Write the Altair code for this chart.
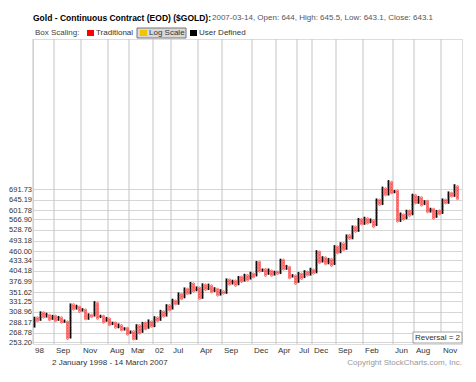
import altair as alt
import pandas as pd

# ---- data (P&F, 1% log boxes, reversal 2) ----
# alternating pivot prices: start, then each column's extreme (X up / O down)
pivots = [280, 300, 290, 310, 296, 305, 292, 303, 290, 300, 286, 292, 258, 327,
          312, 322, 308, 316, 292, 305, 298, 330, 295, 303, 288, 298, 282, 290,
          276, 285, 272, 280, 266, 274, 256, 285, 268, 290, 275, 292, 278, 300,
          290, 312, 298, 325, 312, 335, 322, 350, 336, 362, 345, 375, 352, 365,
          335, 372, 355, 370, 350, 362, 342, 356, 346, 385, 368, 382, 366, 392,
          375, 396, 380, 400, 388, 432, 400, 412, 392, 408, 390, 405, 394, 438,
          405, 418, 385, 395, 372, 400, 384, 405, 390, 410, 396, 462, 425, 445,
          420, 440, 418, 478, 452, 488, 462, 515, 495, 545, 520, 572, 545, 575,
          550, 568, 540, 650, 620, 700, 660, 730, 670, 690, 555, 590, 565, 605,
          580, 670, 625, 660, 620, 645, 590, 612, 570, 605, 585, 650, 625, 680,
          655, 710, 645]

month_labels = ["98", "Sep", "Nov", "Aug", "Mar", "02", "Jul", "Apr", "Sep",
                "Dec", "Apr", "Jul", "Dec", "Sep", "Feb", "Jun", "Aug", "Nov"]
month_cols = [0, 7, 16, 25, 32, 40, 46, 55, 63, 73, 81, 88, 93, 101, 110, 120,
              127, 136]

y_ticks = [253.20, 268.78, 288.17, 308.96, 331.25, 351.62, 376.99, 404.18,
           433.34, 460.00, 493.18, 528.76, 566.90, 601.78, 645.19, 691.73]

BOX = 1.01
N_COLS = 143

# ---- expand columns into boxes ----
rows = []
for k in range(len(pivots) - 1):
    a, b = pivots[k], pivots[k + 1]
    up = b > a
    v = a if k == 0 else (a * BOX if up else a / BOX)
    if up:
        while v <= b * 1.0001:
            rows.append({"col": k + 0.5, "price": v, "kind": "X"})
            v *= BOX
    else:
        while v >= b / 1.0001:
            rows.append({"col": k + 0.5, "price": v, "kind": "O"})
            v /= BOX
boxes = pd.DataFrame(rows)
months = pd.DataFrame({"col": month_cols, "label": month_labels})

FONT = "Liberation Sans"
W, H = 429, 305

xs = alt.Scale(domain=[0, N_COLS], nice=False, zero=False)
ys = alt.Scale(type="log", domain=[249.9, 1853.0], nice=False, zero=False)
yaxis = alt.Axis(values=y_ticks, format=".2f", grid=True, gridColor="#d6d6d6",
                 gridWidth=1, domain=False, ticks=False, labelFont=FONT,
                 labelFontSize=7.5, labelColor="#333333", labelPadding=1.5,
                 labelOverlap=False, labelBound=False, title=None)

base = alt.Chart(boxes)
o_marks = base.transform_filter(alt.datum.kind == "O").mark_point(
    shape="circle", filled=False, size=4, strokeWidth=0.7, color="#ff2a2a",
    opacity=1).encode(
    x=alt.X("col:Q", scale=xs, axis=None),
    y=alt.Y("price:Q", scale=ys, axis=yaxis))
x_marks = base.transform_filter(alt.datum.kind == "X").mark_point(
    shape="cross", angle=45, filled=True, size=5, color="#000000",
    opacity=1).encode(
    x=alt.X("col:Q", scale=xs, axis=None),
    y=alt.Y("price:Q", scale=ys, axis=yaxis))

vgrid = alt.Chart(months).mark_rule(color="#c4c4c4", strokeWidth=1).encode(
    x=alt.X("col:Q", scale=xs, axis=None),
    y=alt.value(0), y2=alt.value(H))
xlabels = alt.Chart(months).mark_text(
    align="left", baseline="middle", dx=2, font=FONT, fontSize=8,
    color="#333333").encode(
    x=alt.X("col:Q", scale=xs, axis=None), y=alt.value(H + 7), text="label:N")

dummy = pd.DataFrame({"d": [0]})


def txt(text, x, y, size=8, color="#333333", weight="normal", align="left"):
    return alt.Chart(dummy).mark_text(
        text=text, align=align, baseline="middle", font=FONT, fontSize=size,
        fontWeight=weight, color=color).encode(x=alt.value(x), y=alt.value(y))


def rect(x1, x2, y1, y2, fill, stroke=None):
    kw = {"fill": fill}
    if stroke:
        kw.update(stroke=stroke, strokeWidth=1)
    return alt.Chart(dummy).mark_rect(**kw).encode(
        x=alt.value(x1), x2=alt.value(x2), y=alt.value(y1), y2=alt.value(y2))


annotations = [
    txt("Gold - Continuous Contract (EOD) ($GOLD):", 0, -21, size=8.5,
        color="#000000", weight="bold"),
    txt("2007-03-14, Open: 644, High: 645.5, Low: 643.1, Close: 643.1", 179,
        -21, color="#555555"),
    txt("Box Scaling:", 2, -6, color="#444444"),
    rect(54, 61, -9, -3, "#ff0000"),
    txt("Traditional", 63, -6, color="#333333"),
    rect(104, 153, -11, -1, "#d9d9d9", "#777777"),
    rect(107, 114, -9, -3, "#f5c400"),
    txt("Log Scale", 116, -6, color="#333333"),
    rect(157, 164, -9, -3, "#000000"),
    txt("User Defined", 166, -6, color="#333333"),
    rect(380, 429, 293, 304, "#ffffff", "#a0a0a0"),
    txt("Reversal = 2", 404.5, 298.5, color="#333333", align="center"),
    txt("2 January 1998 -  14 March 2007", 19, 324, color="#333333"),
    txt("Copyright StockCharts.com, Inc.", 429, 324, color="#999999",
        align="right"),
]

chart = alt.layer(vgrid, o_marks, x_marks, xlabels, *annotations).properties(
    width=W, height=H,
    autosize=alt.AutoSizeParams(type="none"),
    padding={"left": 25, "top": 31, "right": 6, "bottom": 30},
).configure_view(stroke="#8a8a8a", strokeWidth=1).configure(background="white")

chart.save("out.html", embed_options={"renderer": "svg", "actions": False})
